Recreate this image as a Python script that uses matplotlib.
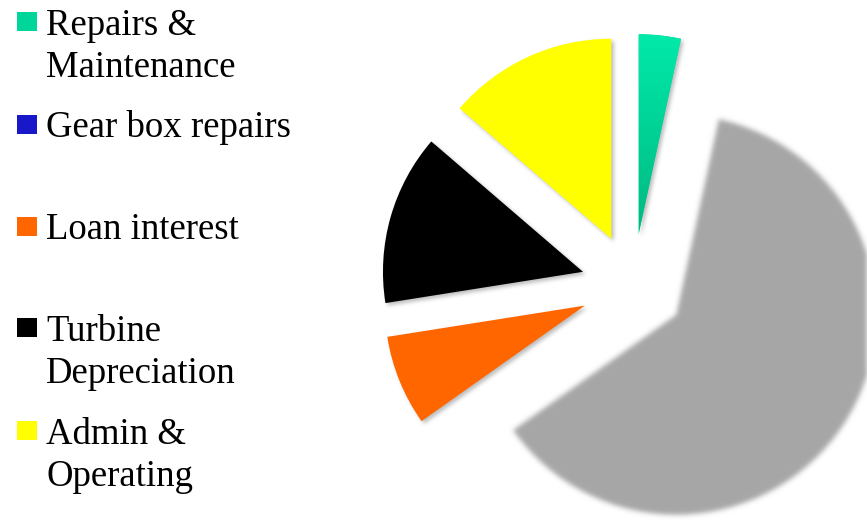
import numpy as np
import matplotlib
matplotlib.use("Agg")
import matplotlib.pyplot as plt
from matplotlib.patches import Wedge, Rectangle

# Cost breakdown (percent of total)
categories = ["Repairs &\nMaintenance", "Gear box repairs", "Loan interest",
              "Turbine\nDepreciation", "Admin &\nOperating"]
shares = [3.4, 61.8, 7.3, 13.8, 13.7]
slice_colors = ["#00D69A", "#A6A6A6", "#FF6600", "#000000", "#FFFF00"]
legend_colors = ["#00D69A", "#1818C8", "#FF6600", "#000000", "#FFFF00"]

W, H = 867, 524
fig = plt.figure(figsize=(W / 100, H / 100), dpi=100)
ax = fig.add_axes([0, 0, 1, 1])


def blur_alpha(a, sigma):
    r = int(3 * sigma) + 1
    x = np.arange(-r, r + 1)
    k = np.exp(-0.5 * (x / sigma) ** 2)
    k /= k.sum()
    a = np.apply_along_axis(lambda v: np.convolve(v, k, mode="same"), 0, a)
    a = np.apply_along_axis(lambda v: np.convolve(v, k, mode="same"), 1, a)
    return a


def make_blur(sigma, rgb, alpha=1.0):
    def filt(im, dpi):
        pad = int(3 * sigma) + 2
        h, w = im.shape[:2]
        out = np.zeros((h + 2 * pad, w + 2 * pad, 4), dtype=float)
        a = np.zeros((h + 2 * pad, w + 2 * pad))
        a[pad:pad + h, pad:pad + w] = im[:, :, 3]
        out[:, :, :3] = rgb
        out[:, :, 3] = np.clip(blur_alpha(a, sigma) * alpha, 0, 1)
        return out, -pad, -pad
    return filt


cx, cy = 633, H - 286
radius = 200
explode_dist = 0.26 * radius
wedges, _ = ax.pie(shares, explode=[explode_dist] * len(shares), center=(cx, cy),
                   radius=radius, startangle=90, counterclock=False,
                   colors=slice_colors, wedgeprops=dict(linewidth=0))

# soft drop shadows under the sharp slices, blurred large slice
for i, w in enumerate(wedges):
    if i == 1:
        w.set_agg_filter(make_blur(2.5, (0.651, 0.651, 0.651)))
        w.set_zorder(2)
        continue
    (x0, y0) = w.center
    sh = Wedge((x0 + 2.5, y0 - 2.5), w.r, w.theta1, w.theta2,
               facecolor="black", linewidth=0, zorder=1)
    sh.set_agg_filter(make_blur(2.0, (0.35, 0.35, 0.35), alpha=0.4))
    ax.add_patch(sh)
    w.set_zorder(3)

ax.set_xlim(0, W)
ax.set_ylim(0, H)
ax.set_aspect("equal")
ax.axis("off")
fig.canvas.draw()

# vertical gradient on the teal slice
tw = wedges[0]
grad = np.linspace(0, 1, 256)[:, None]
top = np.array([0, 234, 170]) / 255
bot = np.array([0, 184, 128]) / 255
img = top[None, None, :] * (1 - grad[:, :, None]) + bot[None, None, :] * grad[:, :, None]
bb = tw.get_window_extent()
inv = ax.transData.inverted()
(xa, ya), (xb, yb) = inv.transform([[bb.x0, bb.y0], [bb.x1, bb.y1]])
im = ax.imshow(img, extent=[xa, xb, ya, yb], origin="upper", aspect="auto", zorder=4)
im.set_clip_path(tw)

# legend drawn as swatches and labels
baselines = [35, 137, 239, 341, 444]
swatch_tops = [12, 115, 217, 318, 421]
line_gap = 42
for lab, col, b, st in zip(categories, legend_colors, baselines, swatch_tops):
    ax.add_patch(Rectangle((17, H - st - 19), 20, 19, facecolor=col,
                           linewidth=0, zorder=5))
    for j, line in enumerate(lab.split("\n")):
        ax.text(46, H - (b + j * line_gap), line, fontsize=26.5,
                family="Liberation Serif", color="black", va="baseline",
                ha="left", zorder=6)

ax.set_xlim(0, W)
ax.set_ylim(0, H)
fig.savefig("out.png", dpi=100, facecolor="white")
